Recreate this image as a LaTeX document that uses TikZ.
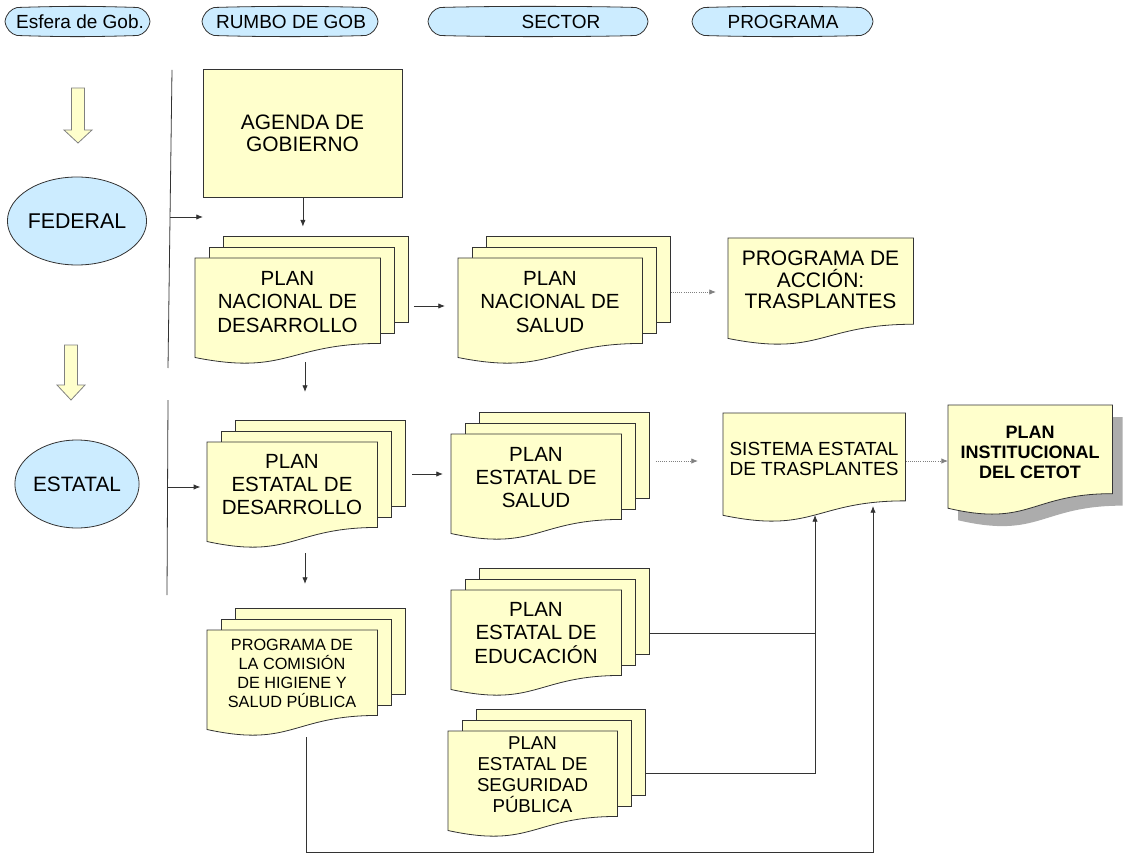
\documentclass[tikz,border=0pt]{standalone}
\usepackage{fontspec}
\setmainfont{Liberation Sans}
\usetikzlibrary{calc,arrows.meta,shapes.geometric}
\definecolor{docy}{HTML}{FFFFCC}
\definecolor{hblue}{HTML}{CCECFF}
\definecolor{linec}{HTML}{333333}

\newcommand\docpath[2]{%
 \path[#2] (#1.north west) -- (#1.north east) -- ($(#1.north east)!0.802!(#1.south east)$) .. controls ($(#1.north)!0.802!(#1.south)$) and ($(#1.north)!1.107!(#1.south)$) .. ($(#1.north west)!0.934!(#1.south west)$) -- cycle;}

\newcommand\mdoc[7]{%
 \node[sheet, minimum width=#4*0.75pt] (#1-b) at (#2+28,#3-22) {};
 \node[sheet, minimum width=#4*0.75pt] (#1-m) at (#2+14,#3-11) {};
 \node[docbox, minimum width=#4*0.75pt] (#1) at (#2,#3) {};
 \docpath{#1}{docsty}
 \node[#5] (#1-t) at (#2+#4/2,#3+#6) {#7};}

\newcommand\hdr[5]{%
 \path[hdrsty] (#2,21.5) .. controls (#2+1,14) and (#2+6,9) .. (#2+12,7.5) .. controls (#2+60,6) and (#3-60,6) .. (#3-12,7.5) .. controls (#3-6,9) and (#3-1,14) .. (#3,21.5) .. controls (#3-1,29) and (#3-6,34) .. (#3-12,35.5) .. controls (#3-60,37) and (#2+60,37) .. (#2+12,35.5) .. controls (#2+6,34) and (#2+1,29) .. cycle;
 \node[htxt] (#1) at (#4,29) {#5};}

\begin{document}
\begin{tikzpicture}[x=0.75pt,y=-0.75pt,
  sheet/.style={draw=linec, fill=docy, line width=0.6pt, inner sep=0, anchor=north west, minimum height=86*0.75pt},
  docbox/.style={inner sep=0, anchor=north west, minimum height=106*0.75pt},
  docsty/.style={draw=linec, fill=docy, line width=0.6pt},
  hdrsty/.style={draw=linec, fill=hblue, line width=0.6pt},
  htxt/.style={anchor=base, inner sep=0, font=\fontsize{14.25}{16}\selectfont},
  dtxt/.style={align=center, inner sep=0, font=\fontsize{15.4}{17.3}\selectfont},
  stxt/.style={align=center, inner sep=0, font=\fontsize{14}{15.75}\selectfont},
  ctxt/.style={align=center, inner sep=0, font=\fontsize{12.2}{14.25}\selectfont},
  arr/.style={-{Latex[length=5pt,width=4pt]}, line width=0.6pt, draw=linec},
  dotarr/.style={arr, densely dotted, draw=gray},
  conn/.style={line width=0.6pt, draw=linec},
  yarr/.style={draw=gray, fill=docy, line width=0.6pt}]
\useasboundingbox (0,0) rectangle (1126,855);

% headers
\hdr{h1}{5}{150}{80}{Esfera de Gob.}
\hdr{h2}{202}{378}{291}{RUMBO DE GOB}
\hdr{h3}{428}{648}{561}{SECTOR}
\hdr{h4}{692}{873}{783}{PROGRAMA}

% left column
\path[yarr] (71.5,88) -- (84.5,88) -- (84.5,130) -- (92,130) -- (78,143) -- (64,130) -- (71.5,130) -- cycle;
\path[yarr] (64.5,345) -- (77.5,345) -- (77.5,385) -- (85,385) -- (71,400) -- (57,385) -- (64.5,385) -- cycle;
\node[ellipse, draw=linec, fill=hblue, line width=0.6pt, minimum width=107*0.75pt, minimum height=88*0.75pt, inner sep=0, font=\fontsize{16}{18}\selectfont] (fed) at (77,221) {FEDERAL};
\node[ellipse, draw=linec, fill=hblue, line width=0.6pt, minimum width=108*0.75pt, minimum height=88*0.75pt, inner sep=0, font=\fontsize{15.6}{18}\selectfont] (est) at (77,484) {ESTATAL};

\coordinate (l1t) at (172,70);
\coordinate (l1b) at (168,368);
\coordinate (l2t) at (168,400);
\coordinate (l2b) at (167,595);
\draw[conn] (l1t) -- (l1b);
\draw[conn] (l2t) -- (l2b);

% agenda
\node[draw=linec, fill=docy, line width=0.6pt, minimum width=199*0.75pt, minimum height=128*0.75pt, inner sep=0, anchor=north west] (agenda) at (203,69) {};
\node[dtxt, font=\fontsize{15.7}{16.5}\selectfont] (agenda-t) at (302.5,133) {AGENDA DE\\GOBIERNO};

% multi documents
\mdoc{pnd}{195}{258}{185}{dtxt}{44}{PLAN\\NACIONAL DE\\DESARROLLO}
\mdoc{pns}{458}{258}{184}{dtxt}{44}{PLAN\\NACIONAL DE\\SALUD}
\mdoc{ped}{207}{442}{170}{dtxt}{42.5}{PLAN\\ESTATAL DE\\DESARROLLO}
\mdoc{pes}{451}{434}{170}{dtxt}{43.5}{PLAN\\ESTATAL DE\\SALUD}
\mdoc{edu}{451}{590}{170}{dtxt}{43}{PLAN\\ESTATAL DE\\EDUCACIÓN}
\mdoc{seg}{448}{731}{169}{stxt}{44}{PLAN\\ESTATAL DE\\SEGURIDAD\\PÚBLICA}
\mdoc{com}{207}{630}{170}{ctxt}{43.5}{PROGRAMA DE\\LA COMISIÓN\\DE HIGIENE Y\\SALUD PÚBLICA}

% single documents
\node[docbox, minimum width=185*0.75pt, minimum height=107*0.75pt] (accion) at (728,238) {};
\docpath{accion}{docsty}
\node[dtxt, font=\fontsize{15.75}{16.3}\selectfont] (accion-t) at (820.5,280) {PROGRAMA DE\\ACCIÓN:\\TRASPLANTES};

\node[docbox, minimum width=182*0.75pt, minimum height=109*0.75pt] (sis) at (723,413) {};
\docpath{sis}{docsty}
\node[dtxt, font=\fontsize{14.25}{15}\selectfont] (sis-t) at (814,459) {SISTEMA ESTATAL\\DE TRASPLANTES};

\node[docbox, minimum width=164*0.75pt, minimum height=110*0.75pt] (cetot-s) at (958,417) {};
\docpath{cetot-s}{fill=gray!65}
\node[docbox, minimum width=164*0.75pt, minimum height=110*0.75pt] (cetot) at (948,405) {};
\docpath{cetot}{docsty}
\node[dtxt, font=\bfseries\fontsize{13.5}{15}\selectfont] (cetot-t) at (1030,452.5) {PLAN\\INSTITUCIONAL\\DEL CETOT};

% connectors
\coordinate (v1) at (170,217);
\coordinate (v2) at (168,487);
\draw[arr] (v1) -- (agenda.west |- v1);
\draw[arr, shorten >=5pt] (v2) -- (ped.west |- v2);
\draw[arr, shorten >=7pt] (agenda.south) -- (agenda.south |- pnd-b.north);
\coordinate (d1) at (305,362);
\draw[arr, shorten >=21pt] (d1) -- (d1 |- ped-b.north);
\coordinate (d2) at (305,553);
\draw[arr, shorten >=18pt] (d2) -- (d2 |- com-b.north);
\draw[arr, shorten <=3.75pt, shorten >=9.75pt] (pnd-b.east |- 0,306) -- (pns.west |- 0,306);
\draw[dotarr, shorten >=9pt] (pns-b.east |- 0,292) -- (accion.west |- 0,292);
\draw[arr, shorten <=5pt, shorten >=6pt] (ped-b.east |- 0,474) -- (pes.west |- 0,474);
\draw[dotarr, shorten <=4.5pt, shorten >=18.75pt] (pes-b.east |- 0,461) -- (sis.west |- 0,461);
\draw[dotarr] (sis.east |- 0,461) -- (cetot.west |- 0,461);

\coordinate (s1) at (815,515);
\coordinate (s2) at (873,506);
\coordinate (c1) at (306,737);
\draw[conn] (edu-b.east |- 0,633) -- (s1 |- 0,633);
\draw[arr] (seg-b.east |- 0,773) -| (s1);
\draw[arr] (c1) -- (c1 |- 0,852) -- (s2 |- 0,852) -- (s2);
\end{tikzpicture}
\end{document}
